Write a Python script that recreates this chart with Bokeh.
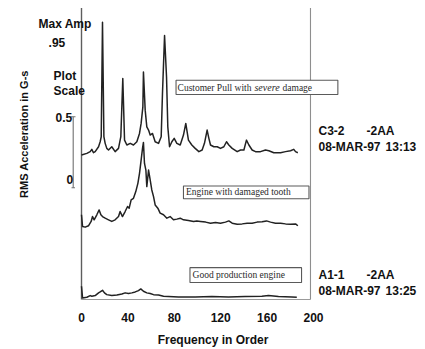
from bokeh.plotting import figure
from bokeh.models import FixedTicker, Range1d
from bokeh.core.properties import value
from bokeh.embed import file_html
from bokeh.resources import INLINE

# ---------------- data ----------------
x_ticks = [0, 40, 80, 120, 160, 200]

# Customer pull with severe damage (C3-2), amplitude in G-s above its own baseline
top_freq = [0, 4.6, 7.5, 8.9, 10.3, 11.8, 14.7, 16.1, 17.0, 18.1, 19.3, 20.4, 21.8, 23.3, 26.1,
            29.0, 31.9, 33.9, 35.6, 37.1, 39.1, 42.0, 44.8, 47.7, 50.0, 51.4, 52.9, 53.4, 54.9,
            56.3, 57.8, 59.2, 61.2, 63.5, 66.4, 68.7, 69.8, 71.6, 73.3, 74.4, 75.9, 77.9, 79.9,
            82.2, 85.1, 87.9, 89.9, 92.2, 95.1, 98.0, 101.2, 104.0, 106.0, 108.3, 109.8, 111.2,
            114.1, 117.0, 119.8, 122.7, 125.0, 127.0, 129.9, 134.2, 137.1, 140.0, 142.2, 144.3,
            147.1, 150.0, 154.3, 158.6, 161.5, 165.8, 171.6, 175.9, 180.2, 183.0, 184.5, 186.5]
top_amp = [0.0, 0.012, 0.025, 0.042, 0.017, 0.025, 0.061, 0.098, 0.135, 0.98, 0.135, 0.086, 0.049,
           0.037, 0.061, 0.025, 0.049, 0.135, 0.564, 0.110, 0.074, 0.086, 0.074, 0.098, 0.159,
           0.233, 0.355, 0.613, 0.331, 0.208, 0.184, 0.147, 0.159, 0.098, 0.086, 0.135, 0.453,
           0.882, 0.576, 0.208, 0.061, 0.098, 0.123, 0.086, 0.074, 0.147, 0.233, 0.110, 0.074,
           0.049, 0.025, 0.037, 0.086, 0.184, 0.123, 0.074, 0.061, 0.061, 0.049, 0.061, 0.098,
           0.074, 0.049, 0.025, 0.037, 0.037, 0.110, 0.074, 0.037, 0.025, 0.025, 0.037, 0.032,
           0.017, 0.017, 0.025, 0.032, 0.042, 0.025, 0.017]

# Engine with damaged tooth
mid_freq = [0, 0.9, 3.2, 6.0, 8.3, 9.5, 10.9, 13.2, 15.2, 16.7, 18.1, 20.4, 23.3, 26.1, 29.0, 31.9,
            33.3, 35.3, 37.6, 39.7, 41.1, 42.8, 44.8, 46.8, 48.6, 50.0, 51.4, 52.6, 53.4, 54.3,
            55.5, 56.3, 57.8, 59.2, 60.6, 62.1, 63.5, 65.8, 67.8, 70.7, 73.6, 76.4, 79.3, 82.2,
            85.1, 87.9, 92.2, 96.6, 99.4, 102.6, 107.0, 111.2, 115.5, 119.8, 124.1, 127.0, 129.9,
            134.2, 138.5, 142.8, 147.1, 151.4, 155.7, 159.5, 163.0, 167.2, 171.6, 175.9, 180.2,
            184.5, 186.5]
mid_amp = [0.096, 0.01, 0.005, 0.015, 0.047, 0.083, 0.059, 0.096, 0.132, 0.096, 0.083, 0.071,
           0.059, 0.047, 0.059, 0.083, 0.120, 0.083, 0.120, 0.157, 0.145, 0.206, 0.218, 0.267,
           0.328, 0.402, 0.5, 0.586, 0.63, 0.475, 0.426, 0.304, 0.426, 0.353, 0.279, 0.230, 0.169,
           0.145, 0.108, 0.096, 0.071, 0.083, 0.059, 0.064, 0.071, 0.059, 0.054, 0.047, 0.051,
           0.047, 0.042, 0.034, 0.039, 0.034, 0.042, 0.051, 0.034, 0.027, 0.029, 0.034, 0.034,
           0.042, 0.044, 0.051, 0.042, 0.034, 0.034, 0.029, 0.027, 0.029, 0.015]

# Good production engine (A1-1)
low_freq = [0, 0.9, 4.6, 7.5, 8.9, 11.8, 14.7, 16.1, 18.1, 19.8, 21.8, 26.1, 30.5, 34.8, 37.6,
            40.5, 43.4, 46.3, 49.1, 51.1, 53.4, 56.3, 59.2, 62.1, 66.4, 70.7, 75.0, 83.6, 98.0,
            112.4, 126.7, 141.0, 155.5, 161.2, 169.8, 181.3, 185.6]
low_amp = [0.091, 0.005, 0.010, 0.022, 0.017, 0.022, 0.042, 0.049, 0.061, 0.042, 0.029, 0.022,
           0.027, 0.034, 0.042, 0.037, 0.042, 0.049, 0.059, 0.071, 0.054, 0.042, 0.037, 0.029,
           0.027, 0.017, 0.015, 0.012, 0.012, 0.015, 0.012, 0.015, 0.017, 0.022, 0.015, 0.012,
           0.010]

trace_labels = ["Customer Pull with", "severe", "damage",
                "Engine with damaged tooth", "Good production engine"]

# ---------------- layout ----------------
TOP_OFF, MID_OFF, LOW_OFF = 1.066, 0.529, 0.007
X_END = 197.4
Y_TOP = 2.15

SANS = value("Liberation Sans")
SERIF = value("Liberation Serif")
INK = "#111111"

p = figure(width=425, height=349, x_range=Range1d(-69.83, 296.55),
           y_range=Range1d(-0.0294, 2.206), output_backend="svg", toolbar_location=None,
           y_axis_location=None, min_border_left=0, min_border_right=0, min_border_top=0,
           min_border_bottom=45)
p.grid.visible = False
p.outline_line_color = None
p.background_fill_color = "white"
p.border_fill_color = "white"

ax = p.xaxis[0]
ax.ticker = FixedTicker(ticks=x_ticks)
ax.axis_line_color = None
ax.major_tick_line_color = None
ax.minor_tick_line_color = None
ax.major_tick_out = 0
ax.major_tick_in = 0
ax.major_label_text_font = "Liberation Sans"
ax.major_label_text_font_style = "bold"
ax.major_label_text_font_size = "12px"
ax.major_label_text_color = INK
ax.major_label_standoff = 9
ax.axis_label = "Frequency in Order"
ax.axis_label_text_font = "Liberation Sans"
ax.axis_label_text_font_style = "bold"
ax.axis_label_text_font_size = "12px"
ax.axis_label_text_color = INK
ax.axis_label_standoff = 8

# frame lines
p.segment(x0=[0], y0=[0], x1=[0], y1=[Y_TOP], line_color="#5e5e5e", line_width=1.4)
p.segment(x0=[X_END], y0=[0], x1=[X_END], y1=[Y_TOP], line_color="#8e8e8e", line_width=1.1)
p.segment(x0=[0], y0=[0], x1=[X_END], y1=[0], line_color="#9a9a9a", line_width=1)

# traces
for fr, am, off in ((top_freq, top_amp, TOP_OFF), (mid_freq, mid_amp, MID_OFF),
                    (low_freq, low_amp, LOW_OFF)):
    p.line(fr, [off + a for a in am], line_color="#222222", line_width=1.5,
           line_join="round")

# plot scale bar
p.segment(x0=[-7.16], y0=[0.824], x1=[-7.16], y1=[1.348], line_color="#707070", line_width=1.1)
p.segment(x0=[-9.5, -8.6], y0=[1.348, 0.824], x1=[-5.2, -5.6], y1=[1.348, 0.824],
          line_color="#707070", line_width=1.1)

# left annotations
p.text(x=[-37.1, -28.4, -24.1, -24.1, -22.4, -12.9],
       y=[2.029, 1.897, 1.647, 1.537, 1.346, 0.882],
       text=["Max Amp", ".95", "Plot", "Scale", "0.5", "0"],
       text_font=SANS, text_font_style="bold", text_font_size="12px",
       text_baseline="middle", text_align="left", text_color=INK)

# y axis title
p.text(x=[-50.0], y=[1.221], text=["RMS Acceleration in G-s"], angle=1.5708,
       text_font=SANS, text_font_style="bold", text_font_size="11px",
       text_baseline="middle", text_align="center", text_color=INK)

# right hand identifiers
p.text(x=[204.3, 245.7, 204.3, 262.1, 204.3, 245.7, 204.3, 262.1],
       y=[1.243, 1.243, 1.125, 1.125, 0.184, 0.184, 0.061, 0.061],
       text=["C3-2", "-2AA", "08-MAR-97", "13:13", "A1-1", "-2AA", "08-MAR-97", "13:25"],
       text_font=SANS, text_font_style="bold", text_font_size="12px",
       text_baseline="middle", text_align="left", text_color=INK)

# label boxes
p.quad(left=[81.5, 87.9, 93.5], right=[221.0, 196.1, 189.7],
       bottom=[1.512, 0.743, 0.125], top=[1.618, 0.838, 0.235],
       fill_color="white", line_color="#5a5a5a", line_width=1.1)
p.text(x=[82.8, 173.3], y=[1.562, 1.562], text=[trace_labels[0], trace_labels[2]],
       text_font=SERIF, text_font_size="9.5px", text_baseline="middle",
       text_align="left", text_color="#2a2a2a")
p.text(x=[149.1], y=[1.562], text=[trace_labels[1]], text_font=SERIF,
       text_font_style="italic", text_font_size="10px", text_baseline="middle",
       text_align="left", text_color="#2a2a2a")
p.text(x=[90.1, 95.7], y=[0.790, 0.180], text=[trace_labels[3], trace_labels[4]],
       text_font=SERIF, text_font_size="9.5px", text_baseline="middle",
       text_align="left", text_color="#2a2a2a")

open("out.html", "w").write(file_html(p, INLINE))
